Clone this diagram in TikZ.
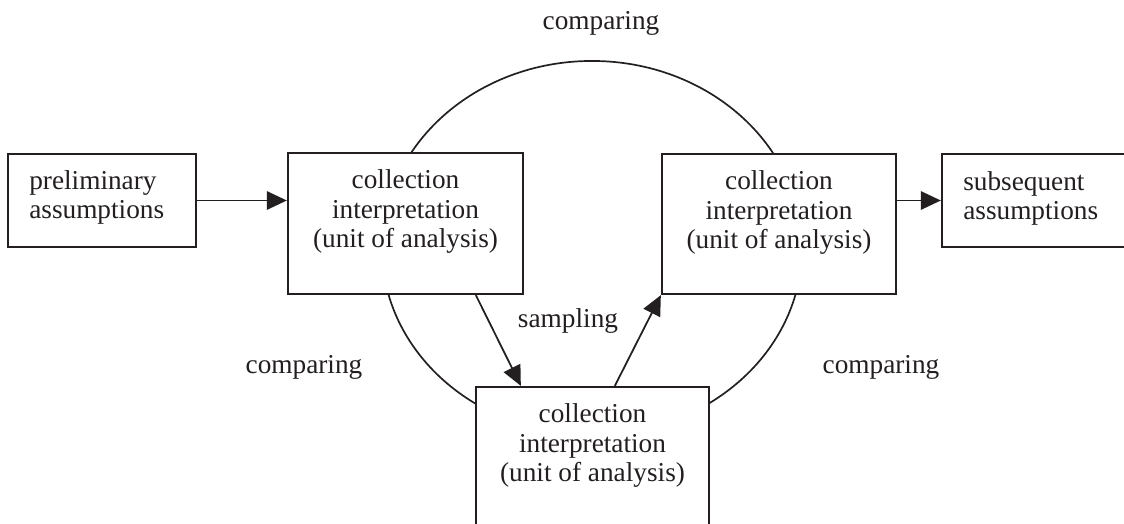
\documentclass[tikz,border=0pt]{standalone}
\usepackage{fontspec}
\setmainfont{Liberation Serif}
\usetikzlibrary{arrows.meta,calc}
\definecolor{ink}{HTML}{231F20}
\begin{document}
\begin{tikzpicture}[x=0.025cm,y=-0.025cm,
  every node/.style={text=ink},
  txt/.style={font=\fontsize{19.4}{21}\selectfont, inner sep=0pt},
  box/.style={draw=ink, line width=1.6pt, fill=white, inner sep=0pt},
  conn/.style={draw=ink, line width=1.25pt, -{Triangle[length=0.5cm,width=0.46cm]}},
  loop/.style={draw=ink, line width=1.2pt}]
\useasboundingbox (0,0) rectangle (1124,524);
\fill[white] (0,0) rectangle (1124,524);

% the comparing loop, partly hidden behind the boxes
\draw[loop] (592,248) ellipse [x radius=5.25cm, y radius=4.675cm];

% boxes
\node[box, minimum width=4.7cm, minimum height=2.325cm] (pre) at (102,200.5) {};
\node[box, minimum width=5.875cm, minimum height=3.525cm] (A) at (405.5,223.5) {};
\node[box, minimum width=5.85cm, minimum height=3.5cm] (B) at (779,224) {};
\node[box, minimum width=5.825cm, minimum height=4.325cm] (C) at (592.5,473.5) {};
\node[box, minimum width=5.45cm, minimum height=2.325cm] (sub) at (1051,200.5) {};

% box texts
\node[txt, align=left, anchor=north west] (pret) at (29,170) {preliminary\\assumptions};
\node[txt, align=left, anchor=north west] (subt) at (963,171) {subsequent\\assumptions};
\node[txt, align=center, anchor=north] (At) at ($(A.north)+(0,17.5)$) {collection\\interpretation\\(unit of analysis)};
\node[txt, align=center, anchor=north] (Bt) at ($(B.north)+(0,17.5)$) {collection\\interpretation\\(unit of analysis)};
\node[txt, align=center, anchor=north] (Ct) at ($(C.north)+(0,17.5)$) {collection\\interpretation\\(unit of analysis)};

% labels
\node[txt, anchor=base] (cmpTop) at (601,30) {comparing};
\node[txt, anchor=base] (cmpL) at (304,373) {comparing};
\node[txt, anchor=base] (cmpR) at (881,373) {comparing};
\node[txt, anchor=base] (smp) at (568,327) {sampling};

% connectors
\draw[conn] (pre.east) -- (A.west |- pre.east);
\draw[conn] (B.east |- sub.west) -- (sub.west);
\draw[conn] ($(A.south west)+(189,0)$) -- ($(C.north west)+(46,0)$);
\draw[conn] ($(C.north west)+(140,0)$) -- (B.south west);
\end{tikzpicture}
\end{document}
